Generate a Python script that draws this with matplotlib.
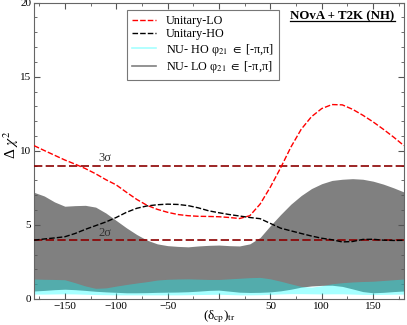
import matplotlib
matplotlib.use('Agg')
import matplotlib.pyplot as plt
from matplotlib.lines import Line2D
from matplotlib.ticker import MultipleLocator

plt.rcParams['font.family'] = ['Liberation Serif', 'DejaVu Serif']
plt.rcParams['mathtext.fontset'] = 'stix'

# delta_cp (true), degrees
dcp = [-180, -170, -160, -150, -140, -130, -120, -110, -100, -90, -80, -70, -60, -50,
       -40, -30, -20, -10, 0, 10, 20, 30, 40, 50, 60, 70, 80, 90, 100, 110, 120,
       130, 140, 150, 160, 170, 180]

unitary_lo = [10.35, 10.02, 9.7, 9.38, 9.1, 8.8, 8.45, 8.05, 7.7, 7.2, 6.72, 6.32, 6.05, 5.85,
              5.7, 5.62, 5.58, 5.57, 5.55, 5.5, 5.43, 5.62, 6.4, 7.55, 8.85, 10.25, 11.45,
              12.3, 12.85, 13.12, 13.1, 12.8, 12.4, 11.95, 11.45, 10.92, 10.35]

unitary_ho = [3.97, 4.05, 4.12, 4.2, 4.42, 4.7, 4.95, 5.2, 5.5, 5.85, 6.12, 6.28, 6.36, 6.4,
              6.38, 6.3, 6.15, 5.95, 5.82, 5.7, 5.6, 5.5, 5.42, 5.1, 4.78, 4.6, 4.42,
              4.25, 4.1, 4.0, 3.85, 3.88, 4.02, 4.03, 3.97, 3.95, 3.96]

# NU, LO band (phi21 in [-pi, pi])
nu_lo_high = [7.2, 6.95, 6.55, 6.26, 6.3, 6.32, 6.2, 5.8, 5.3, 4.8, 4.35, 3.97, 3.72, 3.6,
              3.55, 3.52, 3.58, 3.62, 3.64, 3.6, 3.58, 3.72, 4.15, 4.95, 5.7, 6.4, 6.98,
              7.45, 7.78, 8.0, 8.08, 8.12, 8.08, 7.95, 7.75, 7.5, 7.22]
nu_lo_low = [0.54, 0.58, 0.63, 0.66, 0.63, 0.58, 0.52, 0.48, 0.45, 0.42, 0.42, 0.43, 0.45, 0.46,
             0.47, 0.49, 0.53, 0.58, 0.6, 0.53, 0.46, 0.44, 0.45, 0.48, 0.55, 0.66, 0.8,
             0.88, 0.92, 0.93, 0.85, 0.68, 0.5, 0.42, 0.45, 0.5, 0.54]

# NU, HO band
nu_ho_high = [1.35, 1.33, 1.32, 1.3, 1.1, 0.88, 0.72, 0.75, 0.87, 0.98, 1.08, 1.17, 1.28, 1.33,
              1.35, 1.36, 1.34, 1.32, 1.32, 1.36, 1.4, 1.44, 1.46, 1.36, 1.2, 1.02, 0.85,
              0.8, 0.9, 1.03, 1.1, 1.15, 1.18, 1.2, 1.25, 1.3, 1.35]
nu_ho_low = [0.33, 0.33, 0.34, 0.35, 0.34, 0.32, 0.3, 0.29, 0.28, 0.28, 0.28, 0.28, 0.28, 0.28,
             0.28, 0.29, 0.3, 0.31, 0.32, 0.3, 0.28, 0.28, 0.29, 0.31, 0.34, 0.36, 0.36,
             0.35, 0.34, 0.35, 0.35, 0.33, 0.31, 0.3, 0.31, 0.32, 0.33]

sigma_levels = [4, 9]
sigma_labels = ['2σ', '3σ']

fig = plt.figure(figsize=(4.07, 3.25), dpi=100)
ax = fig.add_axes([0.0835, 0.08, 0.909, 0.912])

ax.fill_between(dcp, nu_lo_low, nu_lo_high, color='#808080', lw=0, zorder=1)
ax.fill_between(dcp, nu_ho_low, nu_ho_high, color='cyan', alpha=0.35, lw=0, zorder=2)

for lev, lab in zip(sigma_levels, sigma_labels):
    ax.axhline(lev, color='#8b0000', ls=(0, (5, 2)), lw=1.2, zorder=3)
    ax.text(-111, lev + 0.08, lab, fontsize=9, color='#333333', ha='center', va='bottom', zorder=5)

ax.plot(dcp, unitary_lo, color='red', ls=(0, (4, 1.5)), lw=1.0, zorder=4)
ax.plot(dcp, unitary_ho, color='black', ls=(0, (4, 1.5)), lw=1.0, zorder=4)

ax.set_xlim(-180, 180)
ax.set_ylim(0, 20)
ax.xaxis.set_minor_locator(MultipleLocator(25))
ax.yaxis.set_major_locator(MultipleLocator(5))
ax.yaxis.set_minor_locator(MultipleLocator(1))
ax.set_xticks([-150, -100, -50, 0, 50, 100, 150])
ax.set_xticklabels(['−150', '−100', '−50', '', '50', '100', '150'])
ax.tick_params(which='both', direction='in', top=True, right=True, labelsize=8,
               colors='#555555', labelcolor='black', pad=2)
ax.tick_params(which='major', length=4)
ax.tick_params(which='minor', length=2)
for s in ax.spines.values():
    s.set_color('#666666')
    s.set_linewidth(0.8)

ax.set_xlabel(r'(δ$_{\rm cp}$)$_{\rm tr}$', fontsize=9.5, labelpad=-2)
ax.set_ylabel(r'Δ $\chi^2$', fontsize=11)
ax.yaxis.set_label_coords(-0.035, 0.52)

handles = [
    Line2D([], [], color='red', ls=(0, (4, 1.5)), lw=1.0),
    Line2D([], [], color='black', ls=(0, (4, 1.5)), lw=1.0),
    Line2D([], [], color='#a6ffff', lw=1.2),
    Line2D([], [], color='#808080', lw=1.2),
]
labels = ['Unitary-LO', 'Unitary-HO',
          r'NU- HO φ$_{21}$ $\in$ [-π,π]', r'NU- LO φ$_{21}$ $\in$ [-π,π]']
leg = ax.legend(handles, labels, loc='upper left', bbox_to_anchor=(0.251, 0.976),
                fontsize=8.7, frameon=True, fancybox=False, edgecolor='#777777',
                framealpha=1, handlelength=2.0, handletextpad=0.8, labelspacing=0.1,
                borderpad=0.45, borderaxespad=0)
leg.get_frame().set_linewidth(0.8)

title = ax.text(0.975, 0.955, 'NOvA + T2K (NH)', transform=ax.transAxes, fontsize=9.3,
                fontweight='bold', ha='right', va='center', zorder=6)
fig.canvas.draw()
bb = title.get_window_extent().transformed(ax.transAxes.inverted())
ax.plot([bb.x0, bb.x1], [bb.y0 + 0.002, bb.y0 + 0.002], transform=ax.transAxes,
        color='black', lw=0.9, clip_on=False, zorder=6)

fig.savefig('out.png', dpi=100)
